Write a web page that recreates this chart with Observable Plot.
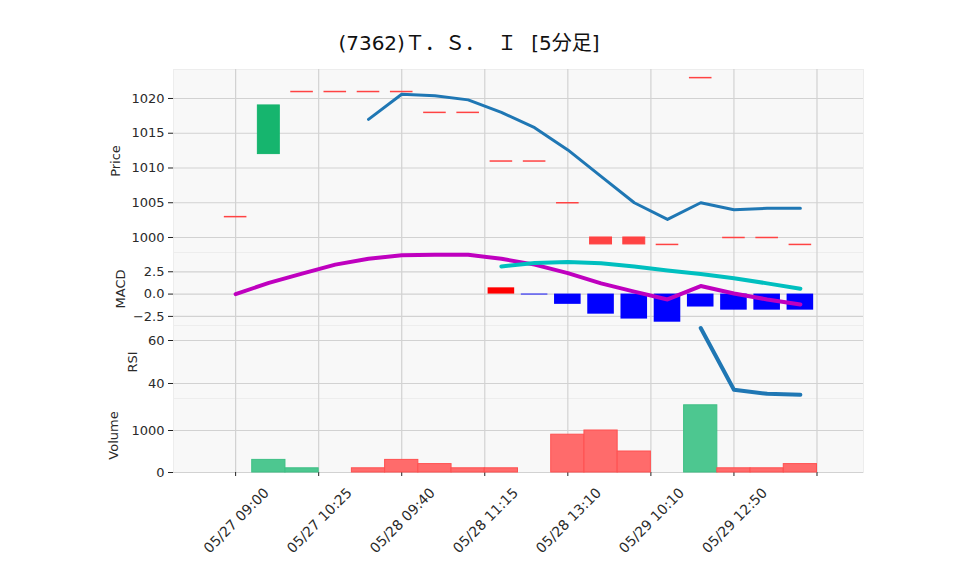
<!DOCTYPE html>
<html><head><meta charset="utf-8">
<script src="https://cdn.jsdelivr.net/npm/d3@7"></script>
<script src="https://cdn.jsdelivr.net/npm/@observablehq/plot@0.6"></script>
<style>
body{margin:0;background:#fff;}
#c{position:relative;width:958px;height:575px;overflow:hidden;font-family:"DejaVu Sans","Noto Sans CJK JP",sans-serif;}
#title{position:absolute;left:0;width:938px;top:30px;text-align:center;font-size:20px;line-height:26px;color:#111;font-family:"DejaVu Sans","Noto Sans CJK JP",sans-serif;word-spacing:8px;white-space:pre;}
#title .g{margin-left:12px;}
</style></head>
<body><div id="c"><div id="title">(7362)Ｔ．Ｓ．<span class="g">Ｉ</span> [5分足]</div></div>
<script>
// ---- data ----
const tickPos = [0, 2.5, 5, 7.5, 10, 12.5, 15, 17.5];
const tickLabels = ["05/27 09:00", "05/27 10:25", "05/28 09:40", "05/28 11:15", "05/28 13:10", "05/29 10:10", "05/29 12:50", ""];
const opens  = [1003, 1012, 1021, 1021, 1021, 1021, 1018, 1018, 1011, 1011, 1005, 1000, 1000, 999, 1023, 1000, 1000, 999];
const closes = [1003, 1019, 1021, 1021, 1021, 1021, 1018, 1018, 1011, 1011, 1005, 999, 999, 999, 1023, 1000, 1000, 999];
const ma5    = [null, null, null, null, 1017, 1020.6, 1020.4, 1019.8, 1018, 1015.8, 1012.6, 1008.8, 1005, 1002.6, 1005, 1004, 1004.2, 1004.2];
const macd   = [0, 1.25, 2.3, 3.3, 3.95, 4.35, 4.4, 4.4, 3.95, 3.3, 2.35, 1.2, 0.27, -0.6, 0.9, 0.07, -0.6, -1.17];
const signal = [null, null, null, null, null, null, null, null, 3.1, 3.48, 3.6, 3.45, 3.1, 2.65, 2.24, 1.78, 1.2, 0.6];
const hist   = [null, null, null, null, null, null, null, null, 0.7, -0.1, -1.15, -2.25, -2.8, -3.15, -1.45, -1.8, -1.8, -1.8];
const rsi    = [null, null, null, null, null, null, null, null, null, null, null, null, null, null, 65.8, 37.1, 35.2, 34.8];
const volume = [0, 300, 100, 0, 100, 300, 200, 100, 100, 0, 900, 1000, 500, 0, 1600, 100, 100, 200];

const priceTicks = [1000, 1005, 1010, 1015, 1020];
const macdTicks = [-2.5, 0, 2.5];
const rsiTicks = [40, 60];
const volTicks = [0, 1000];

// ---- tables ----
const candles = opens.map((o, i) => ({i, o, c: closes[i], up: closes[i] > o}));
const bodies = candles.filter(d => d.o !== d.c);
const dojis = candles.filter(d => d.o === d.c);
const pts = (arr) => arr.map((v, i) => ({i, v})).filter(d => d.v != null);
const vols = volume.map((v, i) => ({i, v, up: i > 0 && closes[i] > closes[i - 1]})).filter(d => d.v > 0);
const ticks = tickPos.map((p, k) => ({p, t: tickLabels[k]}));

const xDomain = [-1.87, 18.9];
const container = document.getElementById("c");
const fmtMinus = (s) => s.replace("-", "\u2212");

function panel({top, height, yDomain, yTicks, yFormat, label, labelOffset, marks, xAxis = false}) {
  const mb = xAxis ? 100 : 0;
  const base = [
    Plot.frame({fill: "#f8f8f8", stroke: "#ededed"}),
    Plot.gridX(tickPos, {stroke: "#d2d2d2", strokeOpacity: 1, strokeWidth: 1.2}),
    Plot.gridY(yTicks, {stroke: "#d2d2d2", strokeOpacity: 1, strokeWidth: 1.2}),
    Plot.axisY({ticks: yTicks, tickFormat: yFormat, tickSize: 5, tickPadding: 4, fontSize: 13,
      label, labelAnchor: "center", labelOffset, labelArrow: "none", stroke: "#222", fill: "#2a2a2a"})
  ];
  if (xAxis) {
    base.push(Plot.axisX({ticks: tickPos, tickSize: 4, tickFormat: () => "", label: null, stroke: "#222"}));
    base.push(Plot.text(ticks, {x: "p", text: "t", frameAnchor: "bottom", rotate: -45, textAnchor: "end",
      lineAnchor: "middle", dx: 31, dy: 18, fontSize: 14, fill: "#2a2a2a"}));
  }
  const svg = Plot.plot({
    width: 958, height: height + mb,
    marginLeft: 173, marginRight: 95, marginTop: 0, marginBottom: mb,
    style: {background: "transparent", overflow: "visible", fontFamily: "'DejaVu Sans', sans-serif", fontSize: "13px", color: "#2a2a2a"},
    x: xAxis ? {domain: xDomain} : {domain: xDomain, axis: null},
    y: {domain: yDomain},
    marks: [...base, ...marks]
  });
  svg.style.position = "absolute";
  svg.style.left = "0px";
  svg.style.top = top + "px";
  container.append(svg);
}

// Price panel
panel({
  top: 69, height: 183, yDomain: [997.84, 1024.17], yTicks: priceTicks, yFormat: d => String(d),
  label: "Price", labelOffset: 63,
  marks: [
    Plot.rect(bodies, {x1: d => d.i - 0.33, x2: d => d.i + 0.33, y1: "o", y2: "c",
      fill: d => d.up ? "#16b56e" : "#ff4343", stroke: d => d.up ? "#16b56e" : "#ff4343", strokeWidth: 1}),
    Plot.ruleY(dojis, {x1: d => d.i - 0.34, x2: d => d.i + 0.34, y: "c", stroke: "#ff4343", strokeWidth: 1.5}),
    Plot.line(pts(ma5), {x: "i", y: "v", stroke: "#1f77b4", strokeWidth: 3})
  ]
});

// MACD panel
panel({
  top: 252, height: 73, yDomain: [-3.52, 4.66], yTicks: macdTicks, yFormat: d => fmtMinus(d.toFixed(1)),
  label: "MACD", labelOffset: 58,
  marks: [
    Plot.rectY(pts(hist), {x1: d => d.i - 0.4, x2: d => d.i + 0.4, y1: 0, y2: "v",
      fill: d => d.v >= 0 ? "#ff0000" : "#0000ff"}),
    Plot.line(pts(macd), {x: "i", y: "v", stroke: "#bf00bf", strokeWidth: 4}),
    Plot.line(pts(signal), {x: "i", y: "v", stroke: "#00bfbf", strokeWidth: 4})
  ]
});

// RSI panel
panel({
  top: 325, height: 73, yDomain: [33.02, 66.98], yTicks: rsiTicks, yFormat: d => String(d),
  label: "RSI", labelOffset: 46,
  marks: [
    Plot.line(pts(rsi), {x: "i", y: "v", stroke: "#1f77b4", strokeWidth: 4})
  ]
});

// Volume panel
panel({
  top: 398, height: 74, yDomain: [0, 1762], yTicks: volTicks, yFormat: d => String(d),
  label: "Volume", labelOffset: 65, xAxis: true,
  marks: [
    Plot.rectY(vols, {x1: d => d.i - 0.5, x2: d => d.i + 0.5, y1: 0, y2: "v",
      fill: d => d.up ? "#4dc790" : "#ff6b6b", stroke: d => d.up ? "#3fbf85" : "#ff5050", strokeWidth: 1})
  ]
});
</script>
</body></html>
